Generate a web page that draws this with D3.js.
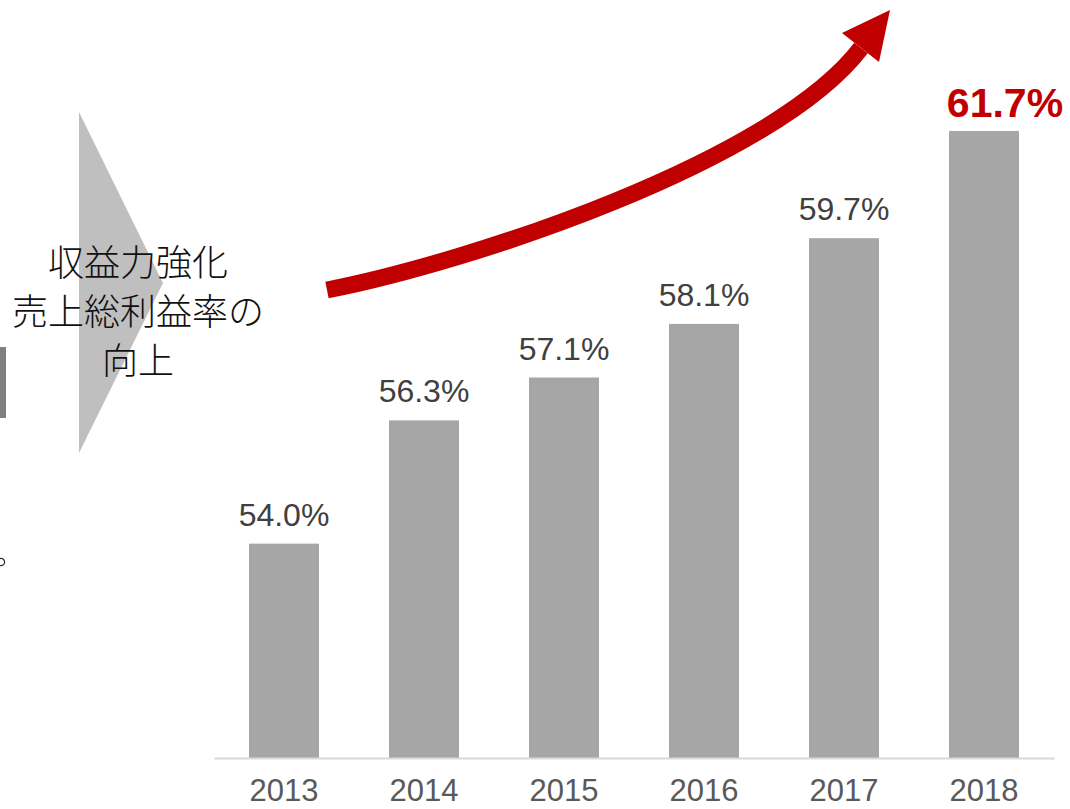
<!DOCTYPE html>
<html><head><meta charset="utf-8">
<script src="https://cdn.jsdelivr.net/npm/d3@7"></script>
<style>html,body{margin:0;padding:0;background:#fff;overflow:hidden}</style>
</head><body>
<svg id="c" width="1070" height="809"></svg>
<script>
const years = ["2013","2014","2015","2016","2017","2018"];
const margins = [54.0, 56.3, 57.1, 58.1, 59.7, 61.7];
const labels = ["54.0%","56.3%","57.1%","58.1%","59.7%","61.7%"];
const noteLines = ["収益力強化","売上総利益率の","向上"];

const svg = d3.select("#c");
const x = d3.scaleBand().domain(years).range([214, 1054]).paddingInner(0.5).paddingOuter(0.25);
const y = d3.scaleLinear().domain([50, 61.7]).range([758, 131]);

// left fragments
svg.append("rect").attr("x",0).attr("y",347).attr("width",6).attr("height",71).attr("fill","#7f7f7f");
svg.append("circle").attr("cx",1).attr("cy",562).attr("r",3.6).attr("fill","none").attr("stroke","#333").attr("stroke-width",1.3);

// chevron
svg.append("path").attr("d","M79,112 L163,283 L79,453 Z").attr("fill","#bfbfbf");
const nt = svg.append("g").attr("font-family","'Noto Sans CJK JP','Noto Sans',sans-serif")
  .attr("font-size",36).attr("font-weight",300).attr("fill","#111").attr("text-anchor","middle");
noteLines.forEach((t,i)=>{
  nt.append("text").attr("x",138).attr("y",260 + i*49).attr("dominant-baseline","central").text(t);
});

// bars
svg.append("g").selectAll("rect").data(margins).join("rect")
  .attr("x",(d,i)=>x(years[i])).attr("width",x.bandwidth())
  .attr("y",d=>y(d)).attr("height",d=>y(50)-y(d)).attr("fill","#a6a6a6");

// axis baseline
const ax = svg.append("g").attr("transform","translate(0,758)").call(d3.axisBottom(x).tickSize(0).tickPadding(0));
ax.select(".domain").attr("stroke","#d9d9d9").attr("stroke-width",2);
ax.selectAll("text").attr("y",43).attr("dy",0).attr("font-family","'Liberation Sans',Arial,sans-serif")
  .attr("font-size",31).attr("fill","#595959");

// value labels
svg.append("g").selectAll("text").data(margins).join("text")
  .attr("x",(d,i)=> i===5 ? 1005 : x(years[i])+x.bandwidth()/2)
  .attr("y",(d,i)=> y(d) - (i===5 ? 14 : 18))
  .attr("text-anchor","middle")
  .attr("font-family","'Liberation Sans',Arial,sans-serif")
  .attr("font-size",(d,i)=> i===5 ? 41 : 32)
  .attr("font-weight",(d,i)=> i===5 ? "bold" : "normal")
  .attr("fill",(d,i)=> i===5 ? "#c00000" : "#404040")
  .text((d,i)=>labels[i]);

// red arrow
svg.append("path").attr("d","M327,290 C470,262 774,162 861,48")
  .attr("fill","none").attr("stroke","#c00000").attr("stroke-width",17);
svg.append("path").attr("d","M890,10 L842,33 L879,62 Z").attr("fill","#c00000");
</script>
</body></html>
